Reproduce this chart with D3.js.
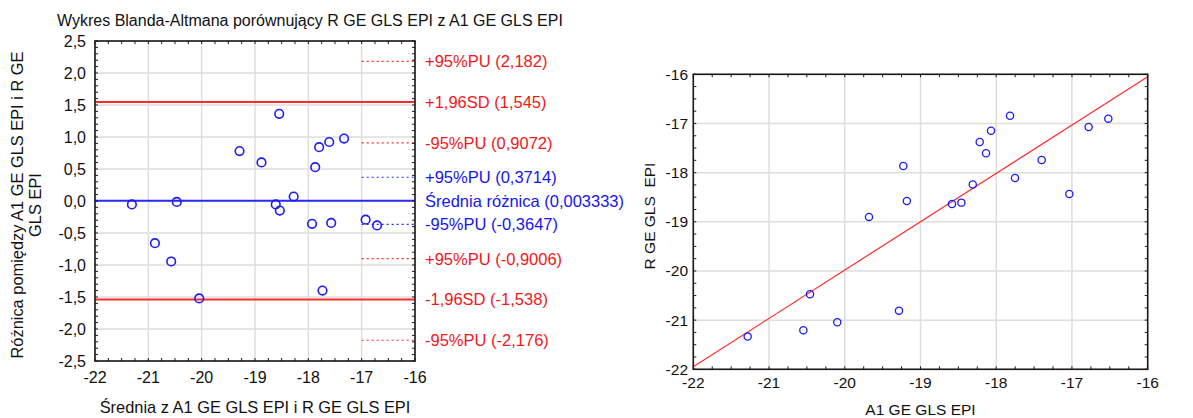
<!DOCTYPE html>
<html>
<head>
<meta charset="utf-8">
<script src="https://cdn.jsdelivr.net/npm/d3@7"></script>
<style>
  html, body { margin: 0; padding: 0; background: #fff; }
  svg { display: block; font-family: Arial, "Liberation Sans", sans-serif; }
</style>
</head>
<body>
<svg id="chart" width="1193" height="418"></svg>
<script>
// Paired measurements (one entry per subject)
const a1Values = [-19.68, -19.227, -19.18, -18.584, -18.46, -18.31, -18.218, -18.135, -18.069, -17.818,
                  -17.752, -17.40, -17.035, -16.78, -16.52, -20.459, -21.282, -20.547, -20.099, -19.284];
const rValues  = [-18.90, -17.865, -18.577, -18.638, -18.61, -18.24, -17.377, -17.607, -17.147, -16.842,
                  -18.109, -17.743, -18.434, -17.072, -16.902, -20.474, -21.335, -21.206, -21.044, -20.807];

// Bland-Altman reference lines: label, value, kind
const limitLabels = ["+95%PU", "+1,96SD", "-95%PU", "+95%PU", "Średnia różnica", "-95%PU", "+95%PU", "-1,96SD", "-95%PU"];
const limitValues = [2.182, 1.545, 0.9072, 0.3714, 0.003333, -0.3647, -0.9006, -1.538, -2.176];
const limitKinds  = ["ci-red", "sd", "ci-red", "ci-blue", "mean", "ci-blue", "ci-red", "sd", "ci-red"];

// Axis tick values
const baXTicks = [-22, -21, -20, -19, -18, -17, -16];
const baYTicks = [2.5, 2.0, 1.5, 1.0, 0.5, 0.0, -0.5, -1.0, -1.5, -2.0, -2.5];
const scXTicks = [-22, -21, -20, -19, -18, -17, -16];
const scYTicks = [-16, -17, -18, -19, -20, -21, -22];

const titleText = "Wykres Blanda-Altmana porównujący R GE GLS EPI z A1 GE GLS EPI";
const baYTitle = ["Różnica pomiędzy A1 GE GLS EPI i R GE", "GLS EPI"];
const baXTitle = "Średnia z A1 GE GLS EPI i R GE GLS EPI";
const scXTitle = "A1 GE GLS EPI";
const scYTitle = "R GE GLS  EPI";

const plLocale = d3.formatLocale({ decimal: ",", thousands: " ", grouping: [3], currency: ["", " zł"], minus: "-" });
const fmt1 = plLocale.format(".1f");
const fmtInt = plLocale.format("d");
const fmtVal = v => String(v).replace(".", ",");

const RED = "#ff2a2a", BLUE = "#2a2aff", MARK = "#1c1cf5", GRID = "#dedede", AXIS = "#1a1a1a";
const TXT = "#111";

const svg = d3.select("#chart");

// Inward tick marks on all four sides of a plot frame
function frameTicks(g, x, y, xMinor, yMinor, len) {
  const [x0, x1] = x.range(), [y0, y1] = y.range();
  const top = Math.min(y0, y1), bot = Math.max(y0, y1);
  const tick = (data, attrs) => {
    const s = g.append("g").selectAll("line").data(data).join("line")
      .attr("stroke", AXIS).attr("stroke-width", 1);
    Object.entries(attrs).forEach(([k, v]) => s.attr(k, v));
  };
  tick(xMinor, { x1: d => x(d), x2: d => x(d), y1: bot, y2: bot - len });
  tick(xMinor, { x1: d => x(d), x2: d => x(d), y1: top, y2: top + len });
  tick(yMinor, { x1: x0, x2: x0 + len, y1: d => y(d), y2: d => y(d) });
  tick(yMinor, { x1: x1, x2: x1 - len, y1: d => y(d), y2: d => y(d) });
}

function grid(g, x, y, xt, yt) {
  const [x0, x1] = x.range(), [y0, y1] = y.range();
  g.append("g").selectAll("line").data(xt).join("line")
    .attr("x1", d => x(d)).attr("x2", d => x(d)).attr("y1", y0).attr("y2", y1)
    .attr("stroke", GRID).attr("stroke-width", 1.5);
  g.append("g").selectAll("line").data(yt).join("line")
    .attr("x1", x0).attr("x2", x1).attr("y1", d => y(d)).attr("y2", d => y(d))
    .attr("stroke", GRID).attr("stroke-width", 1.5);
}

function frame(g, x, y) {
  const [x0, x1] = x.range(), [y0, y1] = y.range();
  g.append("rect")
    .attr("x", x0).attr("y", Math.min(y0, y1))
    .attr("width", x1 - x0).attr("height", Math.abs(y1 - y0))
    .attr("fill", "none").attr("stroke", AXIS).attr("stroke-width", 1.6);
}

const range = (a, b, s) => d3.range(Math.round((b - a) / s) + 1).map(i => +(a + i * s).toFixed(4));

// ---------- Bland-Altman plot ----------
const baMeans = a1Values.map((a, i) => (a + rValues[i]) / 2);
const baDiffs = a1Values.map((a, i) => rValues[i] - a);

const bx = d3.scaleLinear().domain([-22, -16]).range([95, 415]);
const by = d3.scaleLinear().domain([-2.5, 2.5]).range([361, 41]);
const ba = svg.append("g");

grid(ba, bx, by, baXTicks, baYTicks);

limitValues.forEach((v, i) => {
  const k = limitKinds[i];
  const line = ba.append("line").attr("y1", by(v)).attr("y2", by(v));
  if (k === "mean") {
    line.attr("x1", bx(-22)).attr("x2", bx(-16)).attr("stroke", BLUE).attr("stroke-width", 2);
  } else if (k === "sd") {
    line.attr("x1", bx(-22)).attr("x2", bx(-16)).attr("stroke", RED).attr("stroke-width", 2);
  } else {
    line.attr("x1", bx(-17)).attr("x2", bx(-16))
      .attr("stroke", k === "ci-blue" ? BLUE : RED).attr("stroke-width", 1.2)
      .attr("stroke-dasharray", "2,3");
  }
});

ba.append("g").selectAll("circle").data(baMeans).join("circle")
  .attr("cx", d => bx(d)).attr("cy", (d, i) => by(baDiffs[i])).attr("r", 4.3)
  .attr("fill", "none").attr("stroke", MARK).attr("stroke-width", 1.6);

frame(ba, bx, by);
frameTicks(ba, bx, by, range(-22, -16, 0.25), range(-2.5, 2.5, 0.1), 3);

ba.append("g").selectAll("text").data(baXTicks).join("text")
  .attr("x", d => bx(d)).attr("y", 383).attr("text-anchor", "middle")
  .attr("font-size", 16).attr("fill", TXT).text(d => fmtInt(d));
ba.append("g").selectAll("text").data(baYTicks).join("text")
  .attr("x", 86).attr("y", d => by(d)).attr("dy", "0.35em").attr("text-anchor", "end")
  .attr("font-size", 16).attr("fill", TXT).text(d => fmt1(d));

ba.append("g").selectAll("text").data(limitValues).join("text")
  .attr("x", 425).attr("y", d => by(d)).attr("dy", "0.36em")
  .attr("font-size", 16.5)
  .attr("fill", (d, i) => (limitKinds[i] === "mean" || limitKinds[i] === "ci-blue") ? "#1515ee" : "#f01818")
  .text((d, i) => `${limitLabels[i]} (${fmtVal(d)})`);

svg.append("text").attr("x", 57).attr("y", 26).attr("font-size", 16).attr("fill", TXT).text(titleText);
svg.append("text").attr("x", bx(-19)).attr("y", 413).attr("text-anchor", "middle")
  .attr("font-size", 16.4).attr("fill", TXT).text(baXTitle);
const yt = svg.append("text").attr("transform", `translate(23,${by(0) + 4}) rotate(-90)`)
  .attr("text-anchor", "middle").attr("font-size", 16.4).attr("fill", TXT);
baYTitle.forEach((t, i) => yt.append("tspan").attr("x", 0).attr("y", i === 0 ? 0 : 18).text(t));

// ---------- Scatter plot with linear fit ----------
const sx = d3.scaleLinear().domain([-22, -16]).range([693.3, 1147.7]);
const sy = d3.scaleLinear().domain([-22, -16]).range([369.3, 74.3]);
const sc = svg.append("g");

grid(sc, sx, sy, scXTicks, scYTicks);

// least-squares fit of R on A1
const mx = d3.mean(a1Values), my = d3.mean(rValues);
const sxy = d3.sum(a1Values, (a, i) => (a - mx) * (rValues[i] - my));
const sxx = d3.sum(a1Values, a => (a - mx) * (a - mx));
const slope = sxy / sxx, intercept = my - slope * mx;
sc.append("line")
  .attr("x1", sx(-22)).attr("y1", sy(slope * -22 + intercept))
  .attr("x2", sx(-16)).attr("y2", sy(slope * -16 + intercept))
  .attr("stroke", RED).attr("stroke-width", 1.2);

sc.append("g").selectAll("circle").data(a1Values).join("circle")
  .attr("cx", d => sx(d)).attr("cy", (d, i) => sy(rValues[i])).attr("r", 3.6)
  .attr("fill", "none").attr("stroke", MARK).attr("stroke-width", 1.3);

frame(sc, sx, sy);
frameTicks(sc, sx, sy, range(-22, -16, 0.25), range(-22, -16, 0.25), 3);

sc.append("g").selectAll("text").data(scXTicks).join("text")
  .attr("x", d => sx(d)).attr("y", 388).attr("text-anchor", "middle")
  .attr("font-size", 15.5).attr("fill", TXT).text(d => fmtInt(d));
sc.append("g").selectAll("text").data(scYTicks).join("text")
  .attr("x", 688).attr("y", d => sy(d)).attr("dy", "0.35em").attr("text-anchor", "end")
  .attr("font-size", 15.5).attr("fill", TXT).text(d => fmtInt(d));

svg.append("text").attr("x", sx(-19)).attr("y", 415).attr("text-anchor", "middle")
  .attr("font-size", 15.5).attr("fill", TXT).text(scXTitle);
svg.append("text").attr("transform", `translate(655,216) rotate(-90)`)
  .attr("text-anchor", "middle").attr("font-size", 15.5).attr("fill", TXT)
  .attr("xml:space", "preserve").style("white-space", "pre").text(scYTitle);
</script>
</body>
</html>
